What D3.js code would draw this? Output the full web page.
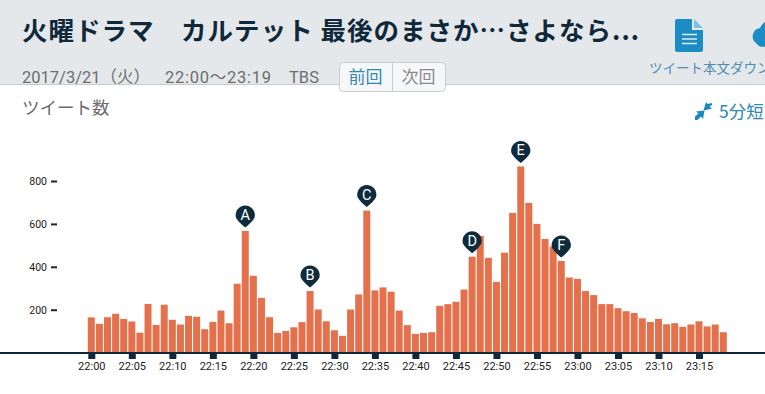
<!doctype html>
<html lang="ja">
  <head>
    <meta charset="utf-8">
    <title>ツイート数</title>
    <script src="https://d3js.org/d3.v7.min.js"></script>
    <style>
      html, body { margin: 0; padding: 0; background: #fff; overflow: hidden; }
      svg { display: block; }
      text { font-family: Roboto, "Noto Sans CJK JP", sans-serif; }
      .ja { font-family: "Noto Sans CJK JP", sans-serif; }
    </style>
  </head>

  <body>
    <svg width="765" height="394"></svg>
    <script>
      var tickLabels = ['22:00','22:05','22:10','22:15','22:20','22:25','22:30','22:35','22:40','22:45','22:50','22:55',
                        '23:00','23:05','23:10','23:15'];
      var tickMinutes = [0,5,10,15,20,25,30,35,40,45,50,55,60,65,70,75];
      var yTicks = [200,400,600,800];

      // tweets per minute, 22:00 to 23:18
      var tweets = [164,134,165,181,157,145,93,227,129,223,
                    153,131,171,167,109,143,196,137,321,567,
                    358,255,165,92,101,118,142,287,201,146,
                    104,78,201,271,662,290,304,284,196,128,
                    87,92,95,218,226,237,294,447,544,442,
                    330,466,651,868,698,600,530,494,427,350,
                    344,287,268,226,226,207,193,185,160,143,
                    157,132,137,120,131,146,122,131,95];

      var pinLabels = ['A','B','C','D','E','F'];
      var pinMinutes = [19,27,34,47,53,58];

      var svg = d3.select('svg');

      var x = d3.scaleLinear().domain([0,75]).range([91.3,699]);
      var y = d3.scaleLinear().domain([0,800]).range([352.6,181]);

      // header
      svg.append('rect').attr('width',765).attr('height',84).attr('fill','#e4e8ea');
      svg.append('rect').attr('y',84).attr('width',765).attr('height',1).attr('fill','#c9cdd0');

      svg.append('text').attr('class','ja')
        .attr('x',22).attr('y',40)
        .attr('font-size',25.5).attr('font-weight',700).attr('fill','#10293a')
        .attr('textLength',617).attr('lengthAdjust','spacing')
        .text('火曜ドラマ　カルテット 最後のまさか…さよなら...');

      svg.append('text').attr('x',22).attr('y',83)
        .attr('font-size',16.5).attr('fill','#6e6e6e').text('2017/3/21（火）');
      svg.append('text').attr('x',165).attr('y',83)
        .attr('font-size',16.5).attr('fill','#6e6e6e')
        .attr('textLength',106).attr('lengthAdjust','spacing').text('22:00〜23:19');
      svg.append('text').attr('x',289).attr('y',83)
        .attr('font-size',16.5).attr('fill','#6e6e6e').text('TBS');

      // prev / next buttons
      svg.append('rect').attr('x',339.5).attr('y',62.5).attr('width',106).attr('height',29).attr('rx',4)
        .attr('fill','#f6f7f8').attr('stroke','#c9cdd0');
      svg.append('line').attr('x1',392.5).attr('x2',392.5).attr('y1',63).attr('y2',91).attr('stroke','#c9cdd0');
      svg.append('text').attr('class','ja').attr('x',365.5).attr('y',83).attr('text-anchor','middle')
        .attr('font-size',17).attr('fill','#2f88b5').text('前回');
      svg.append('text').attr('class','ja').attr('x',418.5).attr('y',83).attr('text-anchor','middle')
        .attr('font-size',17).attr('fill','#8a8a8a').text('次回');

      // download icons
      svg.append('path').attr('fill','#1b8cc4')
        .attr('d','M677 19H692V30H703V50a2 2 0 0 1-2 2H677a2 2 0 0 1-2-2V21a2 2 0 0 1 2-2Z');
      svg.append('path').attr('fill','#7fbfdf').attr('d','M694 19L703 28H694Z');
      svg.append('path').attr('stroke','#e4e8ea').attr('stroke-width',1.6)
        .attr('d','M682 34.500H697M682 39H697M682 43.500H697');
      svg.append('path').attr('fill','#1b8cc4')
        .attr('d','M765 22a12 12 0 0 0-5 6a8.500 8.500 0 0 0-3.500 15.500a8 8 0 0 0 8.500 3Z');
      svg.append('text').attr('class','ja').attr('x',649).attr('y',73)
        .attr('font-size',13.5).attr('fill','#4f8db3').text('ツイート本文ダウン');

      svg.append('text').attr('class','ja').attr('x',22).attr('y',114)
        .attr('font-size',17.5).attr('fill','#6b6b6b').text('ツイート数');

      // shrink toggle
      svg.append('path').attr('fill','#1b87c0')
        .attr('d','M712 103L707.500 104L706 102L703.500 110.500L712 108.500L709.500 106.500L712 105Z');
      svg.append('path').attr('fill','#1b87c0')
        .attr('d','M695 116.500L698.500 113.500L696 111.500L704.500 110.500L703 119L701 116.500L697.500 120L695 120Z');
      svg.append('text').attr('class','ja').attr('x',719).attr('y',118)
        .attr('font-size',17.5).attr('fill','#2f88b5').text('5分短');

      // bars
      svg.selectAll('.bar').data(tweets).enter()
        .append('rect')
          .attr('class','bar')
          .attr('x',function(d,i){ return x(i) - 3.5; })
          .attr('y',function(d){ return y(d); })
          .attr('width',7)
          .attr('height',function(d){ return y(0) - y(d); })
          .attr('fill','#e4714b');

      // y axis
      var yAxis = svg.append('g')
        .attr('transform','translate(57,0)')
        .call(d3.axisLeft(y).tickValues(yTicks).tickSize(6).tickPadding(4));
      yAxis.select('.domain').remove();
      yAxis.selectAll('line').attr('stroke','#222').attr('stroke-width',2);
      yAxis.selectAll('text').attr('font-size',10.5).attr('fill','#222');

      // x axis
      var xAxis = svg.append('g')
        .attr('transform','translate(0,353)')
        .call(d3.axisBottom(x)
          .tickValues(tickMinutes)
          .tickFormat(function(d,i){ return tickLabels[i]; })
          .tickSize(6).tickPadding(3));
      xAxis.select('.domain').remove();
      xAxis.selectAll('line').attr('stroke','#10293a').attr('stroke-width',7);
      xAxis.selectAll('text').attr('font-size',11).attr('fill','#222');

      svg.append('rect').attr('y',352).attr('width',765).attr('height',2).attr('fill','#10293a');

      // pins
      var pins = svg.selectAll('.pin').data(pinLabels).enter()
        .append('g')
          .attr('class','pin')
          .attr('transform',function(d,i){
            return 'translate(' + x(pinMinutes[i]) + ',' + (y(tweets[pinMinutes[i]]) - 16) + ')';
          });

      pins.append('path')
        .attr('fill','#0e2c3b')
        .attr('d','M-9.300 2.500A9.600 9.600 0 1 1 9.300 2.500Q7.500 6.500 0 12.500Q-7.500 6.500 -9.300 2.500Z');

      pins.append('text')
        .attr('text-anchor','middle')
        .attr('y',5)
        .attr('font-size',14.5)
        .attr('fill','#fff')
        .text(function(d){ return d; });
    </script>
  </body>
</html>
